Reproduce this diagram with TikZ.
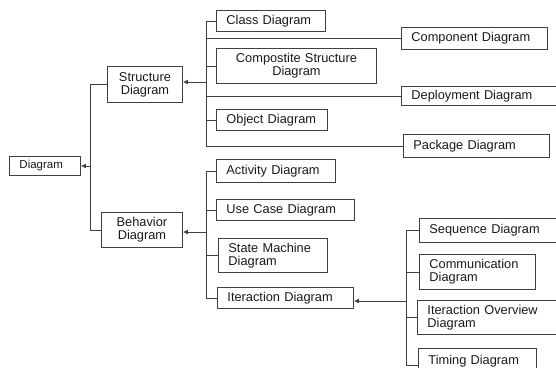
\documentclass[tikz,border=0pt]{standalone}
\usepackage{fontspec}
\setmainfont{Liberation Sans}
\usetikzlibrary{arrows.meta}
\tikzset{
  box/.style={draw=black!75, line width=0.9pt, anchor=north west, inner xsep=10pt, inner ysep=0pt,
    align=left, font=\fontsize{12.8}{13}\selectfont, text=black!90},
  cbox/.style={box, align=center},
  conn/.style={draw=black!75, line width=0.9pt},
  arr/.style={conn, -{Latex[length=5pt,width=5pt]}}
}
\begin{document}
\begin{tikzpicture}[x=1pt,y=-1pt]
\useasboundingbox (0,0) rectangle (556,367);
\clip (0,0) rectangle (556,367);
% root and level 1
\node[box, text width=51pt, minimum height=19pt, font=\fontsize{11.5}{12}\selectfont] (root) at (9,156) {Diagram};
\node[cbox, text width=55pt, minimum height=36pt] (struct) at (107,66) {Structure\\Diagram};
\node[cbox, text width=61pt, minimum height=35pt] (behav) at (101,212) {Behavior\\Diagram};
% structure children
\node[box, text width=89pt, minimum height=21pt] (class) at (216,10) {Class Diagram};
\node[box, text width=126pt, minimum height=22pt] (comp) at (401,27) {Component Diagram};
\node[cbox, text width=140pt, minimum height=35pt] (compst) at (216,48) {Compostite Structure\\Diagram};
\node[box, text width=145pt, minimum height=19pt] (deploy) at (401,86) {Deployment Diagram};
\node[box, text width=91pt, minimum height=21pt] (object) at (216,109) {Object Diagram};
\node[box, text width=126pt, minimum height=23pt] (package) at (403,134) {Package Diagram};
% behavior children
\node[box, text width=99pt, minimum height=23pt] (activity) at (216,159) {Activity Diagram};
\node[box, text width=118pt, minimum height=21pt] (usecase) at (216,199) {Use Case Diagram};
\node[box, text width=89pt, minimum height=34pt] (state) at (218,238) {State Machine\\Diagram};
\node[box, text width=116pt, minimum height=21pt] (iter) at (217,287) {Iteraction Diagram};
% interaction children
\node[box, text width=130pt, minimum height=24pt] (seq) at (419,218) {Sequence Diagram};
\node[box, text width=96pt, minimum height=35pt] (commun) at (419,254) {Communication\\Diagram};
\node[box, text width=130pt, minimum height=34pt] (overview) at (417,300) {Iteraction Overview\\Diagram};
\node[box, text width=98pt, minimum height=26pt] (timing) at (418,348) {Timing Diagram};
% junction coordinates
\coordinate (ja) at (90,166);
\coordinate (jb) at (206,82);
\coordinate (jc) at (206,232);
\coordinate (jd) at (406,301);
\coordinate (jt) at (406,365);
% root connectors
\draw[arr] (ja) -- (ja -| root.east);
\draw[conn] (struct.west) -- (struct.west -| ja) -- (behav.west -| ja) -- (behav.west);
% structure connectors
\draw[arr] (jb) -- (jb -| struct.east);
\draw[conn] (class.west) -- (class.west -| jb) -- (package.west -| jb) -- (package.west);
\draw[conn] (comp.west -| jb) -- (comp.west);
\draw[conn] (compst.west -| jb) -- (compst.west);
\draw[conn] (deploy.west -| jb) -- (deploy.west);
\draw[conn] (object.west -| jb) -- (object.west);
% behavior connectors
\draw[arr] (jc) -- (jc -| behav.east);
\draw[conn] (activity.west) -- (activity.west -| jc) -- (iter.west -| jc) -- (iter.west);
\draw[conn] (usecase.west -| jc) -- (usecase.west);
\draw[conn] (state.west -| jc) -- (state.west);
% interaction connectors
\draw[arr] (jd) -- (jd -| iter.east);
\draw[conn] (seq.west) -- (seq.west -| jd) -- (jt) -- (jt -| timing.west);
\draw[conn] (commun.west -| jd) -- (commun.west);
\draw[conn] (overview.west -| jd) -- (overview.west);
\end{tikzpicture}
\end{document}
